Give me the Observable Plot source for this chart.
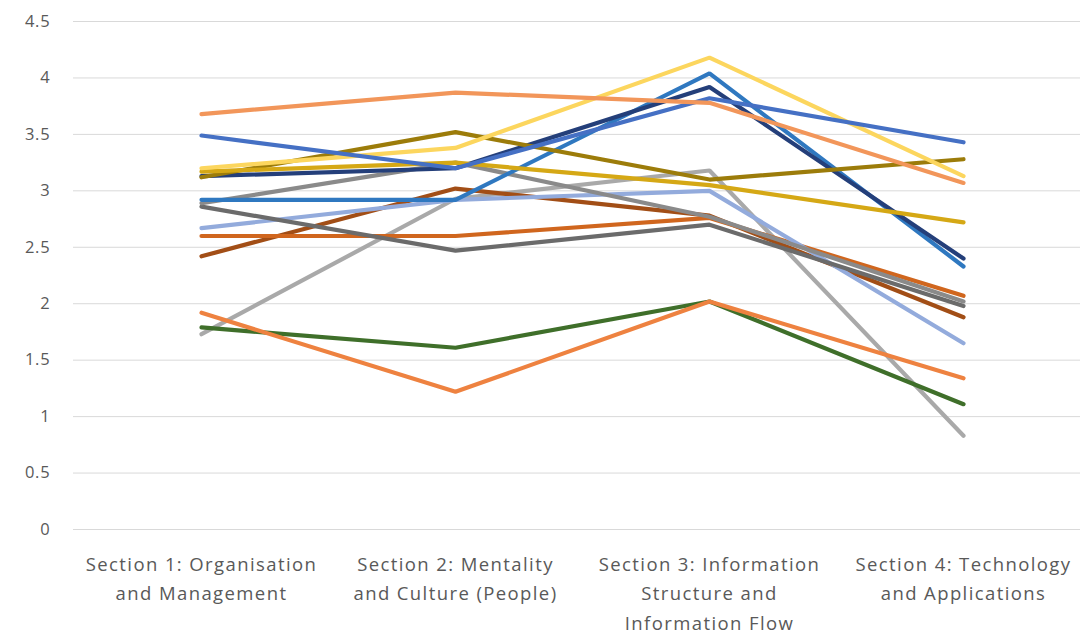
<!DOCTYPE html>
<html>
<head>
<meta charset="utf-8">
<script src="https://cdn.jsdelivr.net/npm/d3@7"></script>
<script src="https://cdn.jsdelivr.net/npm/@observablehq/plot@0.6"></script>
<style>
  html, body { margin: 0; padding: 0; background: #fff; }
  #chart { width: 1082px; height: 635px; }
  #chart svg g[aria-label="x-axis tick label"] text { letter-spacing: 1.4px; }
  #chart svg g[aria-label="y-axis tick label"] text { letter-spacing: 0.8px; }
</style>
</head>
<body>
<div id="chart"></div>
<script>
const sections = [
  "Section 1: Organisation\nand Management",
  "Section 2: Mentality\nand Culture (People)",
  "Section 3: Information\nStructure and\nInformation Flow",
  "Section 4: Technology\nand Applications"
];
const yTicks = [0, 0.5, 1, 1.5, 2, 2.5, 3, 3.5, 4, 4.5];

// one array of four section scores per respondent
const lightGray  = [1.73, 2.93, 3.18, 0.83];
const green      = [1.79, 1.61, 2.02, 1.11];
const orange     = [1.92, 1.22, 2.02, 1.34];
const brown      = [2.42, 3.02, 2.78, 1.88];
const darkOrange = [2.60, 2.60, 2.76, 2.07];
const periwinkle = [2.67, 2.92, 3.00, 1.65];
const darkGray   = [2.86, 2.47, 2.70, 1.98];
const midGray    = [2.89, 3.25, 2.77, 2.02];
const steelBlue  = [2.92, 2.92, 4.04, 2.33];
const navy       = [3.13, 3.20, 3.92, 2.40];
const darkGold   = [3.12, 3.52, 3.10, 3.28];
const gold       = [3.17, 3.25, 3.05, 2.72];
const paleYellow = [3.20, 3.38, 4.18, 3.13];
const blue       = [3.49, 3.20, 3.82, 3.43];
const salmon     = [3.68, 3.87, 3.78, 3.07];

const seriesList = [
  ["lightGray", lightGray, "#a9a9a9"],
  ["green", green, "#3f6f2a"],
  ["orange", orange, "#ee8240"],
  ["brown", brown, "#a24e16"],
  ["darkOrange", darkOrange, "#d0661e"],
  ["periwinkle", periwinkle, "#93abdc"],
  ["darkGray", darkGray, "#6b6b6b"],
  ["midGray", midGray, "#8a8a8a"],
  ["steelBlue", steelBlue, "#2f78c0"],
  ["navy", navy, "#243f7a"],
  ["darkGold", darkGold, "#9c7c0a"],
  ["gold", gold, "#d5a815"],
  ["paleYellow", paleYellow, "#fcd65e"],
  ["blue", blue, "#4570c4"],
  ["salmon", salmon, "#f2965a"]
];

const rows = [];
for (const [name, vals] of seriesList) {
  vals.forEach((v, i) => rows.push({series: name, section: sections[i], value: v}));
}

const chart = Plot.plot({
  width: 1082,
  height: 635,
  marginTop: 21,
  marginBottom: 106,
  marginLeft: 73,
  marginRight: 2,
  style: {fontFamily: "'Open Sans', sans-serif", background: "#fff"},
  x: {type: "point", domain: sections, range: [200, 963], padding: 0},
  y: {domain: [0, 4.5]},
  color: {domain: seriesList.map(d => d[0]), range: seriesList.map(d => d[2])},
  marks: [
    Plot.ruleY(yTicks, {stroke: "#d9d9d9", strokeWidth: 1}),
    Plot.axisY({ticks: yTicks, tickSize: 0, tickPadding: 0, dx: -23, fontSize: 16.5, fill: "#595959",
      tickFormat: d => String(d), label: null}),
    Plot.axisX({tickSize: 0, tickPadding: 20, fontSize: 18.5, fill: "#595959", lineHeight: 1.6,
      textAnchor: "middle", label: null}),
    Plot.line(rows, {x: "section", y: "value", z: "series", stroke: "series", strokeWidth: 4.2,
      strokeLinejoin: "miter", strokeLinecap: "round"})
  ]
});
document.getElementById("chart").appendChild(chart);
</script>
</body>
</html>
